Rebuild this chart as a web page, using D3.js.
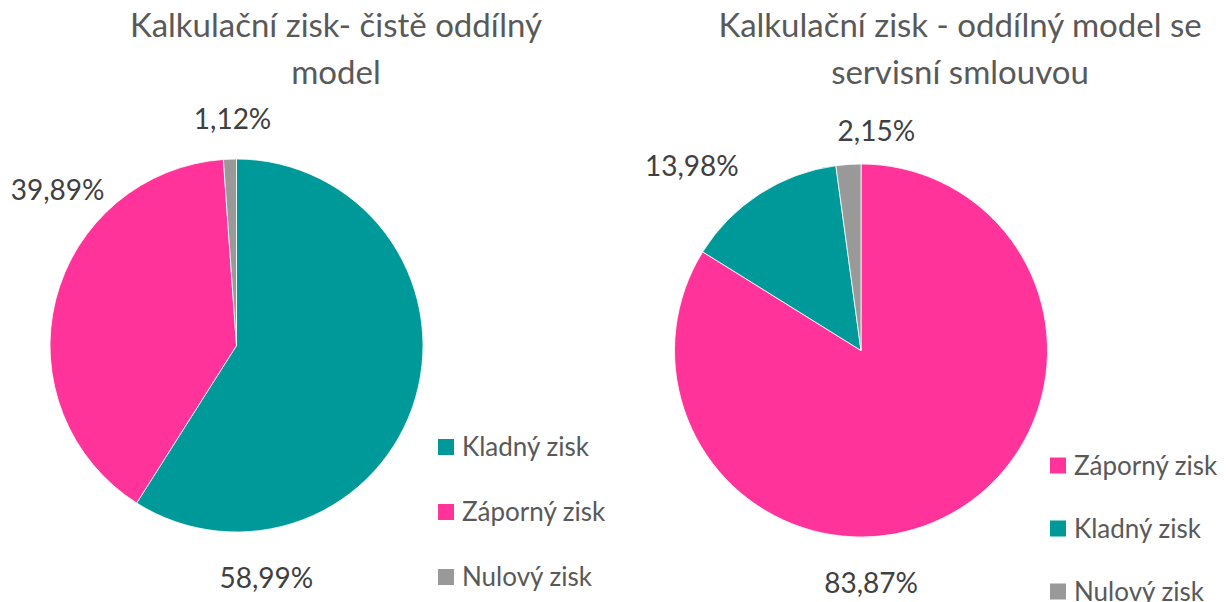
<!DOCTYPE html>
<html>
<head>
<meta charset="utf-8">
<script src="https://cdn.jsdelivr.net/npm/d3@7"></script>
<style>
  body { margin: 0; background: #fff; }
  svg { display: block; font-family: Lato, "Open Sans", sans-serif; }
</style>
</head>
<body>
<svg id="chart" width="1226" height="602"></svg>
<script>
// categories and values of each pie, in drawing order (clockwise from 12 o'clock)
var leftCategories = ["Kladný zisk", "Záporný zisk", "Nulový zisk"];
var leftValues = [58.99, 39.89, 1.12];
var leftTitle = ["Kalkulační zisk- čistě oddílný", "model"];

var rightCategories = ["Záporný zisk", "Kladný zisk", "Nulový zisk"];
var rightValues = [83.87, 13.98, 2.15];
var rightTitle = ["Kalkulační zisk - oddílný model se", "servisní smlouvou"];

var colors = {"Kladný zisk": "#009999", "Záporný zisk": "#ff3399", "Nulový zisk": "#999999"};

var svg = d3.select("#chart");
var fmt = v => d3.format(".2f")(v).replace(".", ",") + "%";

// one pie + title + legend + labels
function drawPie(opts) {
  var g = svg.append("g");

  // title
  g.append("text")
    .attr("x", opts.titleX)
    .attr("text-anchor", "middle")
    .style("font-size", "33px")
    .style("fill", "#595959")
    .selectAll("tspan")
    .data(opts.title)
    .join("tspan")
      .attr("x", opts.titleX)
      .attr("y", (d, i) => 37 + i * 47)
      .text(d => d);

  var data = opts.categories.map((c, i) => ({cat: c, value: opts.values[i]}));
  var pie = d3.pie().sort(null).value(d => d.value);
  var arc = d3.arc().innerRadius(0).outerRadius(opts.r);
  var arcs = pie(data);

  var pg = g.append("g").attr("transform", `translate(${opts.cx},${opts.cy})`);
  pg.selectAll("path")
    .data(arcs)
    .join("path")
      .attr("d", arc)
      .attr("fill", d => colors[d.data.cat])
      .attr("stroke", "#fff")
      .attr("stroke-width", 0.8);

  // data labels (outside end, placed roughly like Excel's best fit)
  pg.selectAll("text.lbl")
    .data(arcs)
    .join("text")
      .attr("class", "lbl")
      .attr("text-anchor", "middle")
      .attr("dy", "0.35em")
      .attr("x", (d, i) => opts.labelAt[i][1] * Math.sin(opts.labelAt[i][0] * Math.PI / 180))
      .attr("y", (d, i) => -opts.labelAt[i][1] * Math.cos(opts.labelAt[i][0] * Math.PI / 180))
      .style("font-size", "28px")
      .style("fill", "#404040")
      .text(d => fmt(d.data.value));

  // legend
  var lg = g.append("g").attr("transform", `translate(${opts.legendX},${opts.legendY})`);
  var item = lg.selectAll("g")
    .data(data)
    .join("g")
      .attr("transform", (d, i) => `translate(0,${i * opts.legendStep})`);
  item.append("rect")
    .attr("x", 0).attr("y", -8)
    .attr("width", 16).attr("height", 16)
    .attr("fill", d => colors[d.cat]);
  item.append("text")
    .attr("x", 24)
    .attr("dy", "0.36em")
    .style("font-size", "26px")
    .style("fill", "#595959")
    .text(d => d.cat);
}

drawPie({
  categories: leftCategories, values: leftValues, title: leftTitle,
  titleX: 336, cx: 236.5, cy: 345.5, r: 186.5,
  labelAt: [[172.7, 235], [-49, 237], [-1, 226]],
  legendX: 438, legendY: 447, legendStep: 65
});

drawPie({
  categories: rightCategories, values: rightValues, title: rightTitle,
  titleX: 960, cx: 861, cy: 350.5, r: 186.5,
  labelAt: [[177.5, 233], [-42.6, 250], [4, 220]],
  legendX: 1050, legendY: 465.5, legendStep: 63
});
</script>
</body>
</html>
